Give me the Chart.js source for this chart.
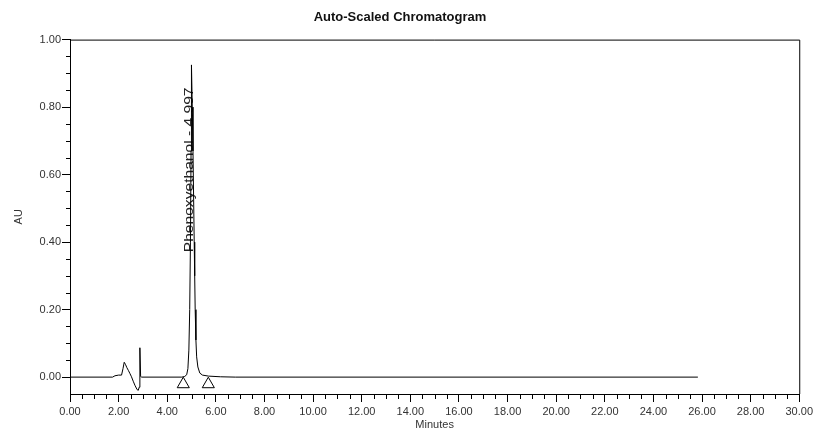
<!DOCTYPE html>
<html>
<head>
<meta charset="utf-8">
<script src="https://cdn.jsdelivr.net/npm/chart.js@4"></script>
<style>
  body { margin: 0; background: #fff; }
  canvas { display: block; }
</style>
</head>
<body>
<canvas id="chromChart" width="816" height="432"></canvas>
<script>
// retention time (min) and absorbance (AU)
const minutes = [0, 1.75, 1.85, 2.00, 2.12, 2.18, 2.23, 2.28, 2.34, 2.40, 2.47, 2.53, 2.60, 2.67, 2.76, 2.81, 2.845, 2.875, 2.905, 2.95,
    4.60, 4.72, 4.80, 4.85, 4.89, 4.925, 4.955, 4.98, 4.997, 5.03, 5.06, 5.11, 5.13, 5.15, 5.18, 5.21, 5.26, 5.34, 5.45, 5.70, 6.20, 6.80, 25.83];
const au = [0, 0, 0.004, 0.006, 0.006, 0.025, 0.044, 0.038, 0.028, 0.020, 0.010, 0.001, -0.012, -0.024, -0.037, -0.039, -0.030, 0.087, 0.002, 0,
    0, 0.002, 0.007, 0.025, 0.080, 0.200, 0.400, 0.670, 0.925, 0.800, 0.670, 0.400, 0.300, 0.200, 0.110, 0.060, 0.030, 0.012, 0.006, 0.003, 0.001, 0, 0];

// integration start / end markers
const markerMinutes = [4.66, 5.69];
const markerAU = [-0.021, -0.021];

// peak annotation
const peakNames = ['Phenoxyethanol'];
const peakTimes = [4.997];
const peakLabelStartAU = [0.37];

// axes
const xTicks = [0, 2, 4, 6, 8, 10, 12, 14, 16, 18, 20, 22, 24, 26, 28, 30];
const xTickLabels = ['0.00', '2.00', '4.00', '6.00', '8.00', '10.00', '12.00', '14.00', '16.00', '18.00', '20.00', '22.00', '24.00', '26.00', '28.00', '30.00'];
const yTicks = [0, 0.2, 0.4, 0.6, 0.8, 1.0];
const yTickLabels = ['0.00', '0.20', '0.40', '0.60', '0.80', '1.00'];
const xMinorStep = 0.5;
const yMinorStep = 0.05;

const FONT = "'Liberation Sans', Arial, sans-serif";

// top/right frame + minor ticks
const framePlugin = {
    id: 'frame',
    afterDraw(chart) {
        const { ctx, chartArea: a, scales } = chart;
        ctx.save();
        ctx.strokeStyle = '#000';
        ctx.lineWidth = 1;
        ctx.beginPath();
        ctx.moveTo(a.left, a.top + 0.5);
        ctx.lineTo(a.right + 0.5, a.top + 0.5);
        ctx.lineTo(a.right + 0.5, a.bottom);
        ctx.stroke();

        // minor ticks
        ctx.beginPath();
        const xs = scales.x;
        for (let v = xs.min + xMinorStep; v < xs.max; v += xMinorStep) {
            if (xTicks.some((t) => Math.abs(t - v) < 1e-6)) continue;
            const px = Math.round(xs.getPixelForValue(v)) + 0.5;
            ctx.moveTo(px, a.bottom);
            ctx.lineTo(px, a.bottom + 5);
        }
        const ys = scales.y;
        for (let v = ys.min + yMinorStep; v < ys.max; v += yMinorStep) {
            if (yTicks.some((t) => Math.abs(t - v) < 1e-6)) continue;
            const py = Math.round(ys.getPixelForValue(v)) + 0.5;
            ctx.moveTo(a.left, py);
            ctx.lineTo(a.left - 4, py);
        }
        ctx.stroke();
        ctx.restore();
    },
};

// rotated peak label
const peakLabelPlugin = {
    id: 'peakLabel',
    beforeDatasetsDraw(chart) {
        const { ctx, scales } = chart;
        ctx.save();
        ctx.fillStyle = '#222';
        ctx.font = `12px ${FONT}`;
        ctx.textAlign = 'left';
        ctx.textBaseline = 'alphabetic';
        peakNames.forEach((name, i) => {
            const px = scales.x.getPixelForValue(peakTimes[i]) + 1.5;
            const py = scales.y.getPixelForValue(peakLabelStartAU[i]);
            ctx.save();
            ctx.translate(px, py);
            ctx.rotate(-Math.PI / 2);
            ctx.scale(1.3, 1);
            ctx.fillText(`${name} - ${peakTimes[i].toFixed(3)}`, 0, 0);
            ctx.restore();
        });
        ctx.restore();
    },
};

const ctx = document.getElementById('chromChart').getContext('2d');
new Chart(ctx, {
    type: 'line',
    data: {
        datasets: [
            {
                data: minutes.map((m, i) => ({ x: m, y: au[i] })),
                borderColor: '#000',
                borderWidth: 1,
                pointRadius: 0,
                tension: 0,
                fill: false,
            },
            {
                type: 'scatter',
                data: markerMinutes.map((m, i) => ({ x: m, y: markerAU[i] })),
                pointStyle: 'triangle',
                pointRadius: 7,
                borderColor: '#000',
                borderWidth: 1,
                backgroundColor: 'rgba(0,0,0,0)',
            },
        ],
    },
    options: {
        responsive: false,
        animation: false,
        devicePixelRatio: 1,
        layout: { padding: { top: 0, right: 16, bottom: 0, left: 0 } },
        plugins: {
            legend: { display: false },
            tooltip: { enabled: false },
            title: {
                display: true,
                text: 'Auto-Scaled Chromatogram',
                color: '#111',
                font: { family: "'Liberation Sans Narrow', 'Arial Narrow', " + FONT, size: 13, weight: 'bold' },
                padding: { top: 10, bottom: 14 },
            },
        },
        scales: {
            x: {
                type: 'linear',
                min: 0,
                max: 30,
                afterFit: (scale) => { scale.height = 38; },
                afterBuildTicks: (scale) => { scale.ticks = xTicks.map((v) => ({ value: v })); },
                grid: { display: true, drawOnChartArea: false, tickLength: 8, color: '#000' },
                border: { display: true, color: '#000', width: 1 },
                ticks: {
                    autoSkip: false,
                    maxRotation: 0,
                    padding: 3,
                    color: '#333',
                    font: { family: FONT, size: 11 },
                    callback: (v, i) => xTickLabels[i],
                },
                title: {
                    display: true,
                    text: 'Minutes',
                    color: '#333',
                    font: { family: FONT, size: 11 },
                    padding: { top: 0, bottom: 0 },
                },
            },
            y: {
                type: 'linear',
                min: -0.05,
                max: 1.0,
                afterFit: (scale) => { scale.width = 70; },
                afterBuildTicks: (scale) => { scale.ticks = yTicks.map((v) => ({ value: v })); },
                grid: { display: true, drawOnChartArea: false, tickLength: 8, color: '#000' },
                border: { display: true, color: '#000', width: 1 },
                ticks: {
                    padding: 1,
                    color: '#333',
                    font: { family: FONT, size: 11 },
                    callback: (v, i) => yTickLabels[i],
                },
                title: {
                    display: true,
                    text: 'AU',
                    color: '#333',
                    font: { family: FONT, size: 11 },
                    padding: { top: 12, bottom: 0 },
                },
            },
        },
    },
    plugins: [framePlugin, peakLabelPlugin],
});
</script>
</body>
</html>
